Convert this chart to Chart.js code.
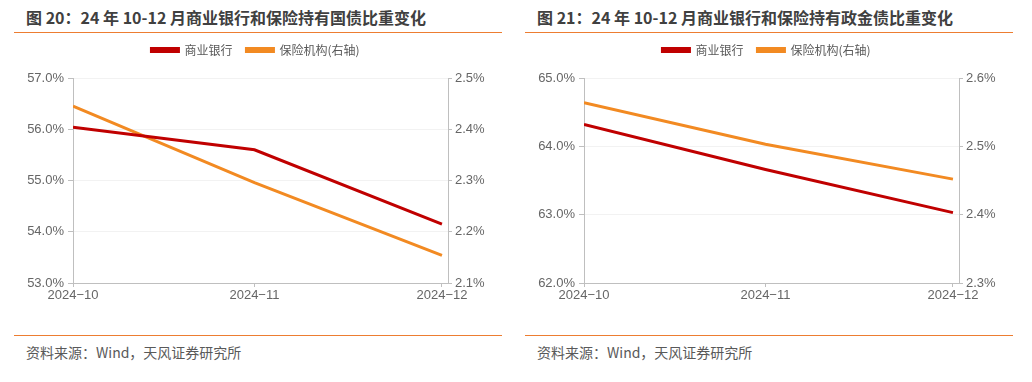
<!DOCTYPE html>
<html>
<head>
<meta charset="utf-8">
<script src="https://cdn.jsdelivr.net/npm/chart.js@4/dist/chart.umd.min.js"></script>
<style>
  html, body { margin: 0; padding: 0; background: #ffffff; }
  body { width: 1032px; height: 382px; position: relative; overflow: hidden; }
  .panel { position: absolute; top: 0; width: 516px; height: 382px; }
  .title { position: absolute; left: 26px; top: 5px; font: bold 16px "Noto Sans CJK SC", sans-serif; color: #404040; white-space: nowrap; line-height: 24px; }
  .rule { position: absolute; left: 14px; width: 488px; height: 1px; background: #ED7D31; }
  .source { position: absolute; left: 26px; top: 341px; font: 14px "Noto Sans CJK SC", sans-serif; color: #595959; white-space: nowrap; line-height: 22px; }
  canvas { position: absolute; left: 0; }
</style>
</head>
<body>
<div class="panel" style="left:0px">
  <div class="title">图 20：24 年 10-12 月商业银行和保险持有国债比重变化</div>
  <div class="rule" style="top:32px"></div>
  <canvas id="c1" width="511" height="277" style="top:30px"></canvas>
  <div class="rule" style="top:335px"></div>
  <div class="source">资料来源：Wind，天风证券研究所</div>
</div>
<div class="panel" style="left:511px">
  <div class="title">图 21：24 年 10-12 月商业银行和保险持有政金债比重变化</div>
  <div class="rule" style="top:32px"></div>
  <canvas id="c2" width="511" height="277" style="top:30px"></canvas>
  <div class="rule" style="top:335px"></div>
  <div class="source">资料来源：Wind，天风证券研究所</div>
</div>
<script>
// ---- data ----
const monthLabels = ['2024\u221210', '2024\u221211', '2024\u221212'];
const monthEnds = ['2024-10-31', '2024-11-30', '2024-12-31'];
const seriesNames = ['商业银行', '保险机构(右轴)'];

// 图20: 国债
const govBank = [56.04, 55.60, 54.15];      // left axis, %
const govInsurer = [2.445, 2.296, 2.154];   // right axis, %
const govLeftTicks = [53, 54, 55, 56, 57];
const govRightTicks = [2.1, 2.2, 2.3, 2.4, 2.5];

// 图21: 政金债
const policyBank = [64.32, 63.66, 63.03];
const policyInsurer = [2.564, 2.503, 2.452];
const policyLeftTicks = [62, 63, 64, 65];
const policyRightTicks = [2.3, 2.4, 2.5, 2.6];

// ---- helpers ----
const DAY = 86400000;
const t0 = Date.parse(monthEnds[0]);
const dayOffsets = monthEnds.map(d => Math.round((Date.parse(d) - t0) / DAY));

const RED = '#C00000';
const ORANGE = '#F28A22';
const AXIS = '#BFBFBF';
const TICKTXT = '#666666';
const tickFont = { family: '"Liberation Sans", Arial, sans-serif', size: 13 };

const legendGap = {
  id: 'legendGap',
  beforeInit(chart) {
    const orig = chart.legend.fit;
    chart.legend.fit = function () { orig.call(this); this.height += 12; };
  }
};

function makeChart(id, bank, insurer, leftTicks, rightTicks) {
  const pts = arr => arr.map((v, i) => ({ x: dayOffsets[i], y: v }));
  return new Chart(document.getElementById(id), {
    type: 'line',
    plugins: [legendGap],
    data: {
      datasets: [
        { label: seriesNames[0], data: pts(bank), yAxisID: 'yL', borderColor: RED, backgroundColor: RED, borderWidth: 3, pointRadius: 0, tension: 0 },
        { label: seriesNames[1], data: pts(insurer), yAxisID: 'yR', borderColor: ORANGE, backgroundColor: ORANGE, borderWidth: 3, pointRadius: 0, tension: 0 }
      ]
    },
    options: {
      responsive: false,
      animation: false,
      layout: { padding: { left: 0, right: 0, top: 0, bottom: 0 } },
      plugins: {
        tooltip: { enabled: false },
        legend: {
          position: 'top',
          align: 'center',
          labels: {
            boxWidth: 27, boxHeight: 3, padding: 14,
            color: '#595959',
            font: { family: '"Noto Sans CJK SC", sans-serif', size: 12 }
          }
        }
      },
      scales: {
        x: {
          type: 'linear',
          min: dayOffsets[0],
          max: dayOffsets[dayOffsets.length - 1] + 1,
          afterBuildTicks: s => { s.ticks = dayOffsets.map(v => ({ value: v })); },
          afterFit: s => { s.height = 24; },
          border: { color: AXIS, width: 1 },
          grid: { drawOnChartArea: false, drawTicks: true, tickLength: 4, color: AXIS },
          ticks: {
            color: TICKTXT, font: tickFont, padding: 1, maxRotation: 0, autoSkip: false,
            callback: v => { const i = dayOffsets.indexOf(v); return i >= 0 ? monthLabels[i] : ''; }
          }
        },
        yL: {
          position: 'left',
          min: leftTicks[0], max: leftTicks[leftTicks.length - 1],
          afterBuildTicks: s => { s.ticks = leftTicks.map(v => ({ value: v })); },
          afterFit: s => { s.width = 73; },
          border: { color: AXIS, width: 1 },
          grid: { color: '#F2F2F2', tickColor: AXIS, tickLength: 5, drawTicks: true },
          ticks: { color: TICKTXT, font: tickFont, padding: 4, callback: v => v.toFixed(1) + '%' }
        },
        yR: {
          position: 'right',
          min: rightTicks[0], max: rightTicks[rightTicks.length - 1],
          afterBuildTicks: s => { s.ticks = rightTicks.map(v => ({ value: v })); },
          afterFit: s => { s.width = 511 - 448; },
          border: { color: AXIS, width: 1 },
          grid: { drawOnChartArea: false, color: AXIS, tickLength: 4, drawTicks: true },
          ticks: { color: TICKTXT, font: tickFont, padding: 3, callback: v => v.toFixed(1) + '%' }
        }
      }
    }
  });
}

makeChart('c1', govBank, govInsurer, govLeftTicks, govRightTicks);
makeChart('c2', policyBank, policyInsurer, policyLeftTicks, policyRightTicks);
</script>
</body>
</html>
